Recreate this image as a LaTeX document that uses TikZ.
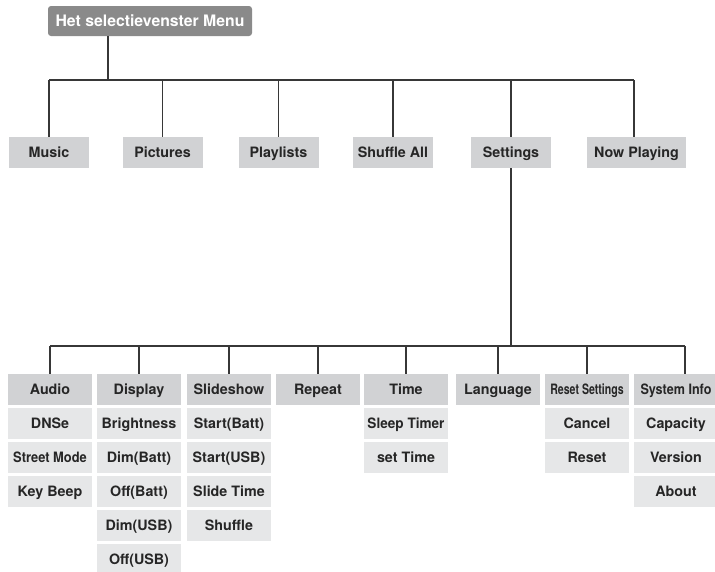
\documentclass[tikz,border=0pt]{standalone}
\usepackage{fontspec}
\setmainfont{TeX Gyre Heros}
\definecolor{hdr}{RGB}{209,210,212}
\definecolor{sub}{RGB}{230,231,232}
\definecolor{topc}{RGB}{138,138,138}
\definecolor{ln}{RGB}{55,55,55}
\tikzset{
  base/.style={inner sep=0pt, font=\fontsize{14.3}{16}\selectfont\bfseries, text=black!85, text height=10.3pt, text depth=0pt},
  lvlone/.style={base, fill=hdr, minimum width=80pt, minimum height=31pt},
  lvltwo/.style={base, fill=hdr, minimum width=84pt, minimum height=31pt},
  subbox/.style={base, fill=sub, minimum width=84pt, minimum height=31pt},
  topbox/.style={base, fill=topc, text=white, rounded corners=3pt, minimum width=204pt, minimum height=30pt, font=\fontsize{15.8}{18}\selectfont\bfseries, text height=11.3pt},
  wire/.style={draw=ln, line width=1.2pt}
}
\begin{document}
\begin{tikzpicture}[x=1pt,y=-1pt]
\clip (0,0) rectangle (715,571);
\fill[white] (0,0) rectangle (715,571);
% top
\node[topbox] (top) at (150,21) {Het selectievenster Menu};
% level 1
\node[lvlone] (music) at (49,152.5) {Music};
\node[lvlone] (pictures) at (162.5,152.5) {Pictures};
\node[lvlone] (playlists) at (278.5,152.5) {Playlists};
\node[lvlone] (shuffleall) at (393,152.5) {Shuffle All};
\node[lvlone] (settings) at (511,152.5) {Settings};
\node[lvlone, minimum width=99pt] (nowplaying) at (636.5,152.5) {Now Playing};
\coordinate (bus1) at (0,80);
\draw[wire] ([xshift=-42pt]top.south) -- ([xshift=-42pt]top.south |- bus1);
\draw[wire] (music.north |- bus1) -- ([xshift=-2.5pt]nowplaying.north |- bus1);
\foreach \n in {music,pictures,playlists,shuffleall,settings}
  \draw[wire] (\n.north) -- (\n.north |- bus1);
\draw[wire] ([xshift=-2.5pt]nowplaying.north) -- ([xshift=-2.5pt]nowplaying.north |- bus1);
% level 2
\node[lvltwo] (audio) at (50,389.5) {Audio};
\node[lvltwo] (display) at (139,389.5) {Display};
\node[lvltwo] (slideshow) at (229,389.5) {Slideshow};
\node[lvltwo] (repeat) at (318,389.5) {Repeat};
\node[lvltwo] (time) at (406,389.5) {Time};
\node[lvltwo] (language) at (498,389.5) {Language};
\node[lvltwo] (reset) at (587,389.5) {\scalebox{0.74}[1]{Reset Settings}};
\node[lvltwo] (sysinfo) at (676,389.5) {\scalebox{0.88}[1]{System Info}};
\coordinate (bus2) at (0,346);
\draw[wire] (settings.south) -- (settings.south |- bus2);
\draw[wire] (audio.north |- bus2) -- ([xshift=9pt]sysinfo.north |- bus2);
\foreach \n in {audio,display,slideshow,repeat,time,language,reset}
  \draw[wire] (\n.north) -- (\n.north |- bus2);
\draw[wire] ([xshift=9pt]sysinfo.north) -- ([xshift=9pt]sysinfo.north |- bus2);
% sub items
\node[subbox] (a1) at (50,423.5) {DNSe};
\node[subbox] (a2) at (50,457.5) {\scalebox{0.9}[1]{Street Mode}};
\node[subbox] (a3) at (50,491.5) {Key Beep};
\node[subbox] (d1) at (139,423.5) {Brightness};
\node[subbox] (d2) at (139,457.5) {Dim(Batt)};
\node[subbox] (d3) at (139,491.5) {Off(Batt)};
\node[subbox] (d4) at (139,525.5) {Dim(USB)};
\node[subbox] (d5) at (139,559.5) {Off(USB)};
\node[subbox] (s1) at (229,423.5) {Start(Batt)};
\node[subbox] (s2) at (229,457.5) {Start(USB)};
\node[subbox] (s3) at (229,491.5) {Slide Time};
\node[subbox] (s4) at (229,525.5) {Shuffle};
\node[subbox] (t1) at (406,423.5) {\scalebox{0.95}[1]{Sleep Timer}};
\node[subbox] (t2) at (406,457.5) {set Time};
\node[subbox] (r1) at (587,423.5) {Cancel};
\node[subbox] (r2) at (587,457.5) {Reset};
\node[subbox] (i1) at (676,423.5) {Capacity};
\node[subbox] (i2) at (676,457.5) {Version};
\node[subbox] (i3) at (676,491.5) {About};
\end{tikzpicture}
\end{document}
